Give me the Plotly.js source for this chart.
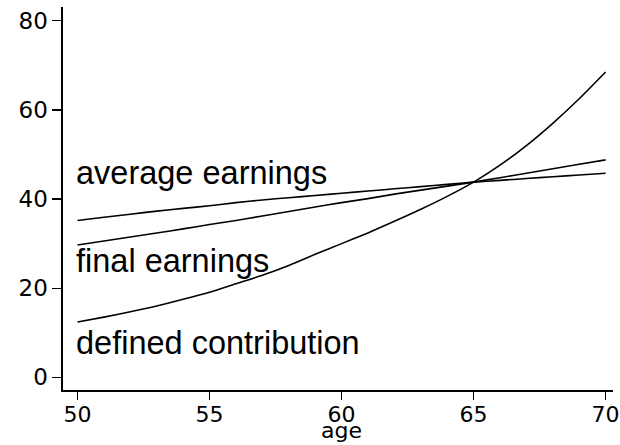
<!DOCTYPE html>
<html>
<head>
<meta charset="utf-8">
<script src="https://cdn.plot.ly/plotly-3.0.1.min.js"></script>
<style>html,body{margin:0;padding:0;background:#fff}#chart{width:620px;height:445px}</style>
</head>
<body>
<div id="chart"></div>
<script>
const ages = [50,51,52,53,54,55,56,57,58,59,60,61,62,63,64,65,66,67,68,69,70];
const averageEarnings = [35.2,35.9,36.6,37.3,37.9,38.5,39.2,39.8,40.3,40.8,41.3,41.8,42.3,42.8,43.3,43.8,44.2,44.6,45.0,45.4,45.8];
const finalEarnings = [29.7,30.6,31.5,32.4,33.3,34.3,35.2,36.2,37.2,38.2,39.2,40.1,41.1,42.0,42.9,43.8,44.8,45.8,46.8,47.8,48.8];
const definedContribution = [12.4,13.5,14.7,16.0,17.5,19.1,21.0,22.9,25.1,27.6,30.0,32.4,35.0,37.7,40.6,43.8,47.6,52.0,57.0,62.5,68.5];
const seriesNames = ["average earnings","final earnings","defined contribution"];
const xTicks = [50,55,60,65,70];
const yTicks = [0,20,40,60,80];
const xTitle = "age";

const lineStyle = {color:'#000', width:1.6, shape:'spline', smoothing:0.6};
const traces = [averageEarnings, finalEarnings, definedContribution].map((ys,i)=>({
  x: ages, y: ys, type:'scatter', mode:'lines', name: seriesNames[i], line: lineStyle, hoverinfo:'skip'
}));

const labelY = [45.9, 26.0, 7.6];
const annotations = seriesNames.map((t,i)=>({
  text: t, x: 49.85, y: labelY[i], xref:'x', yref:'y', xanchor:'left', yanchor:'middle',
  showarrow:false, font:{family:'Liberation Sans, Arial, sans-serif', size:32.5, color:'#000'}
}));
annotations.push({
  text: xTitle, x: 60, y: -0.141, xref:'x', yref:'paper', xanchor:'center', yanchor:'bottom',
  showarrow:false, borderpad:0, font:{family:'DejaVu Sans, sans-serif', size:22, color:'#000'}
});

const layout = {
  width:620, height:445,
  margin:{l:63, r:7, t:7, b:55},
  paper_bgcolor:'#fff', plot_bgcolor:'#fff',
  showlegend:false,
  xaxis:{range:[49.45,70.28], tickvals:xTicks, ticks:'outside', ticklen:8, tickwidth:1.3, tickcolor:'#000',
    showline:true, linecolor:'#000', linewidth:1.6, showgrid:false, zeroline:false, ticklabelstandoff:-4,
    tickfont:{family:'DejaVu Sans, sans-serif', size:22, color:'#000'}},
  yaxis:{range:[-2.85,83.1], tickvals:yTicks, ticks:'outside', ticklen:9, tickwidth:1.3, tickcolor:'#000',
    showline:true, linecolor:'#000', linewidth:1.6, showgrid:false, zeroline:false,
    tickfont:{family:'DejaVu Sans, sans-serif', size:23, color:'#000'}},
  annotations: annotations
};
Plotly.newPlot('chart', traces, layout, {staticPlot:true, displayModeBar:false});
</script>
</body>
</html>
